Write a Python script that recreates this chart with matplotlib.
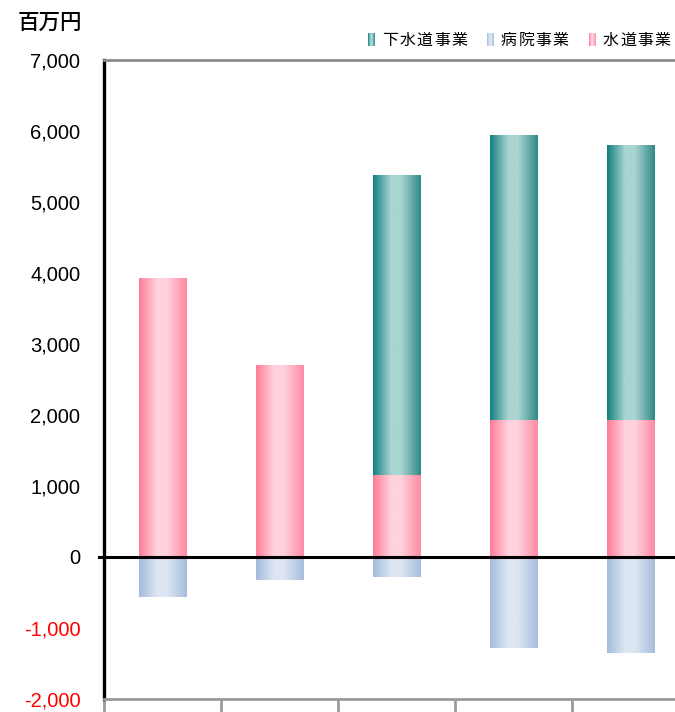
import matplotlib
matplotlib.use('Agg')
import matplotlib.pyplot as plt
import numpy as np
from matplotlib.colors import LinearSegmentedColormap
from matplotlib.ticker import FuncFormatter, FixedLocator

plt.rcParams['font.family'] = ['Liberation Sans', 'Noto Sans CJK JP', 'DejaVu Sans']

# 年度別の繰出金 (百万円)
nendo = ['H26', 'H27', 'H28', 'H29', 'H30']
suido = [3930, 2700, 1160, 1930, 1930]
gesuido = [0, 0, 4220, 4010, 3870]
byoin = [-560, -320, -280, -1280, -1350]

# 横方向のグラデーション (左端, 中央, 右端)
iro_suido = ['#ff7b97', '#ffd2dd', '#ffd2dd', '#ff89a2']
iro_gesuido = ['#137f7f', '#a9d5d2', '#a9d5d2', '#2f8a88']
iro_byoin = ['#a3bbdc', '#dde6f2', '#dde6f2', '#a7bddd']


def make_cmap(cols):
    return LinearSegmentedColormap.from_list('g', list(zip([0.0, 0.38, 0.58, 1.0], cols)))


grad = np.linspace(0, 1, 256).reshape(1, -1)

fig = plt.figure(figsize=(6.75, 7.12), dpi=100)
ax = fig.add_axes([104 / 675, 1 - 699 / 712, 585 / 675, 639 / 712])

x = np.arange(len(nendo))
w = 0.41
b_suido = ax.bar(x, suido, width=w, color='none')
b_gesuido = ax.bar(x, gesuido, width=w, bottom=suido, color='none')
b_byoin = ax.bar(x, byoin, width=w, color='none')

for bars, cols in [(b_suido, iro_suido), (b_gesuido, iro_gesuido), (b_byoin, iro_byoin)]:
    cmap = make_cmap(cols)
    for p in bars:
        if p.get_height() == 0:
            continue
        x0 = p.get_x()
        y0 = p.get_y()
        im = ax.imshow(grad, extent=(x0, x0 + p.get_width(), y0, y0 + p.get_height()),
                       aspect='auto', cmap=cmap, interpolation='bilinear', zorder=2)
        im.set_clip_path(p)

ax.set_xlim(-0.5, len(nendo) - 0.5)
ax.set_ylim(-2000, 7000)

ax.axhline(0, xmin=-0.008, color='black', lw=2.2, zorder=5, clip_on=False)

ax.spines['right'].set_visible(False)
ax.spines['left'].set_color('black')
ax.spines['left'].set_linewidth(2.4)
ax.spines['top'].set_color('#8c8c8c')
ax.spines['top'].set_linewidth(2)
ax.spines['bottom'].set_color('#9a9a9a')
ax.spines['bottom'].set_linewidth(2)

ax.set_yticks(np.arange(-2000, 7001, 1000))
ax.yaxis.set_major_formatter(FuncFormatter(lambda v, p: f'{int(v):,}'))
ax.tick_params(axis='y', length=0, pad=17, labelsize=14.5)
for t, v in zip(ax.get_yticklabels(), ax.get_yticks()):
    if v < 0:
        t.set_color('red')

ax.set_xticks(x)
ax.set_xticklabels(nendo)
ax.tick_params(axis='x', which='major', length=0, pad=10.5, labelsize=14)
ax.xaxis.set_minor_locator(FixedLocator(np.arange(-0.5, len(nendo), 1)))
ax.tick_params(axis='x', which='minor', length=14, width=2, color='#9a9a9a', direction='out')

fig.text(18 / 675, 1 - 23 / 712, '百万円', fontsize=15.5, va='center', ha='left',
         family=['Noto Sans CJK JP'], fontweight='medium')

# 凡例
hanrei = [('下水道事業', iro_gesuido, 368), ('病院事業', iro_byoin, 487), ('水道事業', iro_suido, 589)]
for label, cols, px in hanrei:
    sq = fig.add_axes([px / 675, 1 - 46 / 712, 7 / 675, 13 / 712])
    sq.imshow(grad, aspect='auto', cmap=make_cmap(cols), interpolation='bilinear')
    sq.axis('off')
    for i, ch in enumerate(label):
        fig.text((px + 14 + 8 + i * 17.3) / 675, 1 - 40 / 712, ch, fontsize=11.5,
                 ha='center', va='center', family=['Noto Sans CJK JP'])

fig.savefig('out.png', dpi=100)
